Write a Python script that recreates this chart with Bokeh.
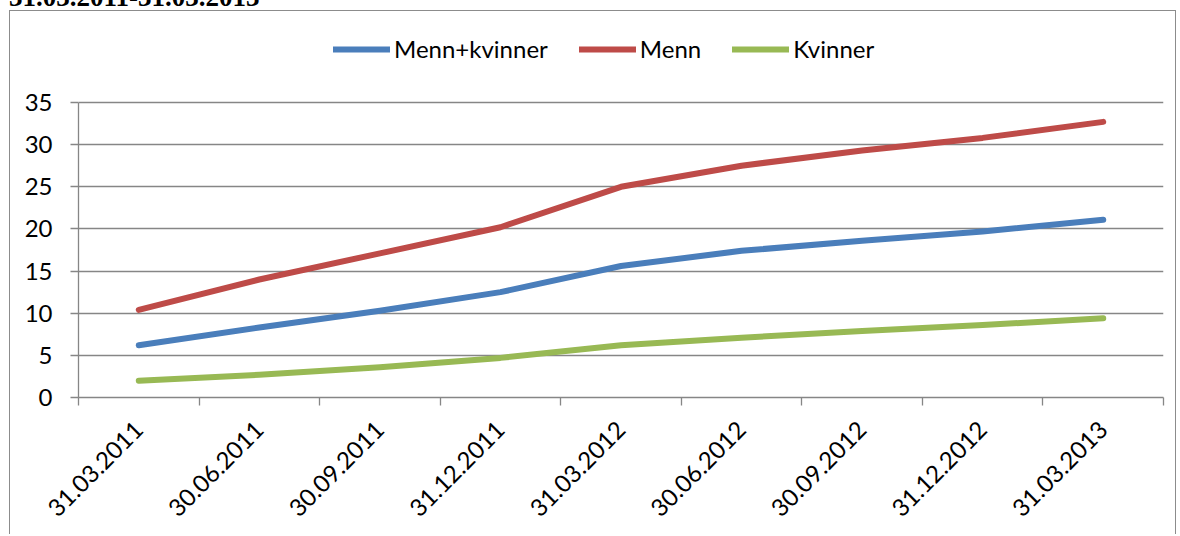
from math import pi
from bokeh.plotting import figure
from bokeh.models import Range1d, FixedTicker, Legend, LegendItem, Div
from bokeh.layouts import column
from bokeh.embed import file_html
from bokeh.resources import INLINE

# ---- data ----
title_text = "31.03.2011-31.03.2013"
dates = ["31.03.2011", "30.06.2011", "30.09.2011", "31.12.2011", "31.03.2012",
         "30.06.2012", "30.09.2012", "31.12.2012", "31.03.2013"]
menn_kvinner = [6.2, 8.3, 10.3, 12.5, 15.6, 17.4, 18.6, 19.7, 21.1]
menn = [10.4, 14.0, 17.1, 20.2, 25.0, 27.5, 29.3, 30.8, 32.7]
kvinner = [2.0, 2.7, 3.6, 4.7, 6.2, 7.1, 7.9, 8.6, 9.4]
series_names = ["Menn+kvinner", "Menn", "Kvinner"]
y_ticks = [0, 5, 10, 15, 20, 25, 30, 35]

# category centres and boundaries on a numeric axis
n = len(dates)
x_centres = [i + 0.5 for i in range(n)]
x_bounds = list(range(n + 1))

FONT = "Lato"
FS = "24px"
GRID = "#868686"
BOX = "#8c8c8c"
colors = ["#4A7EBB", "#BE4B48", "#98B954"]

# frame geometry: data area 0..35 is 295 px tall; frame extended upward to host the legend
PLOT_H = 295.0
FRAME_H = 368.0
y_top = y_ticks[-1] * FRAME_H / PLOT_H

title = Div(text=(f'<span style="position:relative; top:-21px; font-family:\'Liberation Serif\'; '
                  f'font-weight:bold; font-size:27px; line-height:26px; color:black; '
                  f'white-space:nowrap">{title_text}</span>'),
            width=300, height=11, styles={"margin-left": "9px"})

p = figure(width=1167, height=524, output_backend="svg", toolbar_location=None,
           x_range=Range1d(0, n), y_range=Range1d(0, y_top),
           min_border_left=68, min_border_right=14, min_border_top=18, min_border_bottom=138,
           styles={"border-top": f"1px solid {BOX}", "border-left": f"1px solid {BOX}",
                   "border-right": f"1px solid {BOX}", "margin-left": "9px",
                   "margin-top": "-11px"})
p.outline_line_color = None
p.background_fill_color = "white"
p.border_fill_color = "white"

renderers = []
for ys, c in zip([menn_kvinner, menn, kvinner], colors):
    r = p.line(x_centres, ys, line_color=c, line_width=6, line_cap="round", line_join="round")
    renderers.append(r)

# y axis
p.yaxis.ticker = FixedTicker(ticks=y_ticks)
p.yaxis.bounds = (y_ticks[0], y_ticks[-1])
p.yaxis.axis_line_color = GRID
p.yaxis.axis_line_width = 1.3
p.yaxis.major_tick_line_color = GRID
p.yaxis.major_tick_line_width = 1.3
p.yaxis.major_tick_out = 8
p.yaxis.major_tick_in = 0
p.yaxis.minor_tick_line_color = None
p.yaxis.major_label_text_font = FONT
p.yaxis.major_label_text_font_size = FS
p.yaxis.major_label_text_color = "black"
p.yaxis.major_label_standoff = 18
p.ygrid.ticker = FixedTicker(ticks=y_ticks)
p.ygrid.grid_line_color = GRID
p.ygrid.grid_line_width = 1.3
p.xgrid.grid_line_color = None

# x axis: labels at category centres, tick marks at category boundaries
p.xaxis.ticker = FixedTicker(ticks=x_centres, minor_ticks=x_bounds)
p.xaxis.major_label_overrides = {xc: d for xc, d in zip(x_centres, dates)}
p.xaxis.major_tick_line_color = None
p.xaxis.major_tick_out = 8
p.xaxis.major_tick_in = 0
p.xaxis.minor_tick_line_color = GRID
p.xaxis.minor_tick_line_width = 1.3
p.xaxis.minor_tick_out = 8
p.xaxis.minor_tick_in = 0
p.xaxis.axis_line_color = GRID
p.xaxis.axis_line_width = 1.3
p.xaxis.major_label_orientation = pi / 4
p.xaxis.major_label_text_font = FONT
p.xaxis.major_label_text_font_size = FS
p.xaxis.major_label_text_color = "black"
p.xaxis.major_label_standoff = 20

legend = Legend(items=[LegendItem(label=nm, renderers=[r]) for nm, r in zip(series_names, renderers)],
                location=(255, 334), orientation="horizontal",
                glyph_width=57, glyph_height=26, label_height=26, label_standoff=4, spacing=31,
                padding=0, margin=0, border_line_color=None, background_fill_alpha=0,
                label_text_font=FONT, label_text_font_size=FS, label_text_color="black")
p.add_layout(legend)

layout = column(title, p, spacing=0)
open("out.html", "w").write(file_html(layout, INLINE))
